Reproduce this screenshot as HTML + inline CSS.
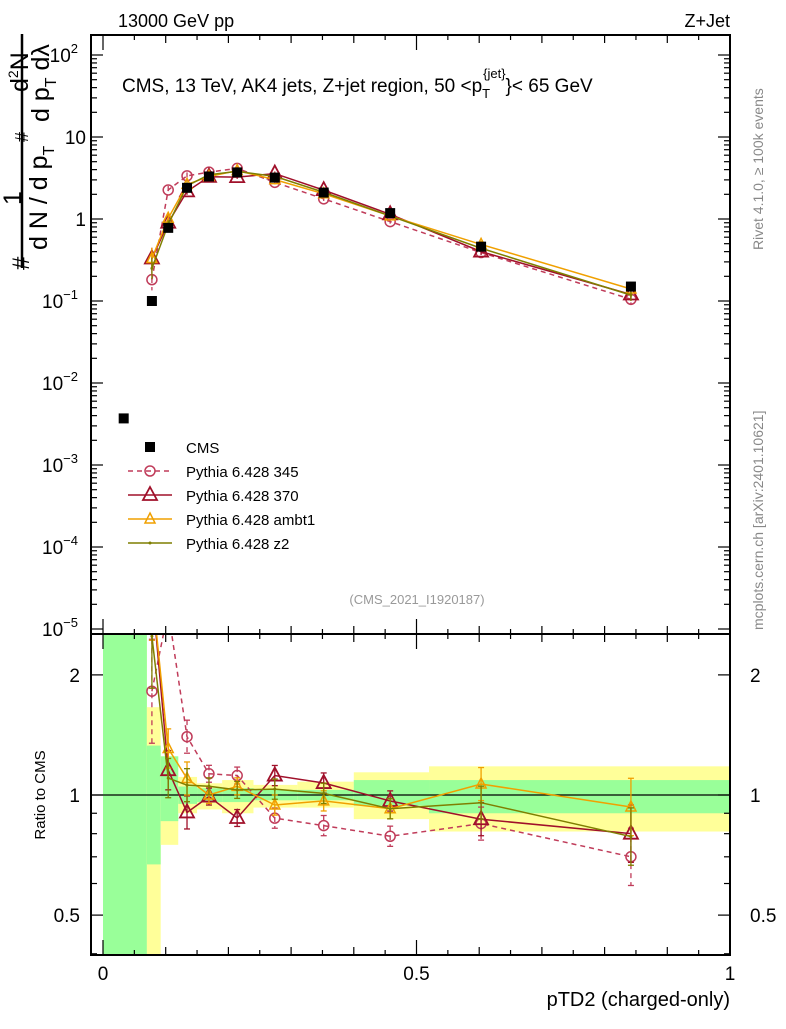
<!DOCTYPE html>
<html><head><meta charset="utf-8"><style>
body{margin:0;background:#fff;}
svg text{font-family:"Liberation Sans",sans-serif;}
</style></head><body>
<svg id="c" width="786" height="1024" xmlns="http://www.w3.org/2000/svg">
<g id="bands"></g>
<g id="marks"></g>
<g id="axes"></g>
<text x="118" y="27" font-size="18">13000 GeV pp</text>
<text x="730" y="27" font-size="18" text-anchor="end">Z+Jet</text>
<text x="122" y="92" font-size="19">CMS, 13 TeV, AK4 jets, Z+jet region, 50 &lt;p<tspan font-size="13" dy="6">T</tspan><tspan font-size="13" dx="-7" dy="-20">{jet}</tspan><tspan dy="14">}&lt; 65 GeV</tspan></text>
<text x="417" y="604" font-size="13" fill="#999" text-anchor="middle">(CMS_2021_I1920187)</text>
<text transform="translate(763,250) rotate(-90)" font-size="14" fill="#888">Rivet 4.1.0, ≥ 100k events</text>
<text transform="translate(763,630) rotate(-90)" font-size="14" fill="#888">mcplots.cern.ch [arXiv:2401.10621]</text>
<g>
<text transform="translate(29,270) rotate(-90)" font-size="24">#</text>
<text transform="translate(21,205) rotate(-90)" font-size="25">1</text>
<line x1="22" y1="268" x2="22" y2="34" stroke="#000" stroke-width="2.5"/>
<text transform="translate(47,250) rotate(-90)" font-size="25">d N / d p<tspan font-size="16" dy="7">T</tspan></text>
<text transform="translate(28,142) rotate(-90)" font-size="18">#</text>
<text transform="translate(28,92) rotate(-90)" font-size="25">d<tspan font-size="14" dy="-10">2</tspan><tspan dy="10">N</tspan></text>
<text transform="translate(49,122) rotate(-90)" font-size="25">d p<tspan font-size="16" dy="7">T</tspan><tspan dy="-7"> dλ</tspan></text>
</g>
<text transform="translate(45,795) rotate(-90)" font-size="15" text-anchor="middle">Ratio to CMS</text>
<text x="730" y="1006" font-size="20" text-anchor="end">pTD2 (charged-only)</text>
<g id="legend"></g>
</svg>
<script>
const xVals=[0.033,0.078,0.104,0.134,0.169,0.214,0.274,0.352,0.458,0.603,0.842];
const cmsVals=[0.0037,0.10,0.78,2.4,3.3,3.7,3.2,2.1,1.18,0.46,0.15];
const mc345=[null,0.182,2.26,3.36,3.73,4.14,2.80,1.76,0.93,0.39,0.105];
const mc370=[null,0.33,0.90,2.17,3.27,3.24,3.58,2.25,1.14,0.40,0.12];
const mcAmbt1=[null,0.33,1.02,2.64,3.3,3.89,3.02,2.03,1.09,0.49,0.14];
const mcZ2=[null,0.25,0.86,2.54,3.47,3.81,3.31,2.12,1.09,0.44,0.118];
const mcRelErr=[0,0.35,0.12,0.1,0.05,0.05,0.06,0.06,0.06,0.1,0.18];
const binEdges=[0,0.07,0.092,0.12,0.15,0.19,0.24,0.31,0.40,0.52,1.0];
const greenLo=[0.39,0.67,0.86,0.95,0.96,0.96,0.97,0.97,0.94,0.90];
const greenHi=[2.6,1.33,1.25,1.05,1.04,1.04,1.03,1.03,1.09,1.09];
const yellowLo=[0.39,0.39,0.75,0.90,0.92,0.90,0.93,0.93,0.87,0.81];
const yellowHi=[2.6,1.66,1.25,1.11,1.07,1.09,1.06,1.08,1.14,1.18];
const yTickVals=[1e-5,1e-4,1e-3,1e-2,0.1,1,10,100];
const yTickLabels=["10","10","10","10","10","1","10","10"];
const yTickExp=["−5","−4","−3","−2","−1","","","2"];
const rTickVals=[0.5,1,2];
const xTickVals=[0,0.5,1];

const NS="http://www.w3.org/2000/svg";
const X=v=>103+627*v;
const Y=v=>219-82*Math.log10(v);
const R=r=>795-399*Math.log10(r);
const YT=35,YB=634,RB=955,XL=91,XR=730;
function el(tag,attrs,parent){const e=document.createElementNS(NS,tag);for(const k in attrs)e.setAttribute(k,attrs[k]);parent.appendChild(e);return e;}
const bands=document.getElementById('bands'),marks=document.getElementById('marks'),axes=document.getElementById('axes'),legend=document.getElementById('legend');
const clip=el('clipPath',{id:'rc'},document.getElementById('c'));el('rect',{x:XL,y:YB,width:XR-XL,height:RB-YB},clip);
const clipM=el('clipPath',{id:'mc'},document.getElementById('c'));el('rect',{x:XL,y:YT,width:XR-XL,height:YB-YT},clipM);
bands.setAttribute('clip-path','url(#rc)');
for(let i=0;i<binEdges.length-1;i++){
  const y=el('rect',{x:X(binEdges[i]),y:R(yellowHi[i]),width:X(binEdges[i+1])-X(binEdges[i]),height:R(yellowLo[i])-R(yellowHi[i]),fill:'#ffff99'},bands);
  
  
  const g=el('rect',{x:X(binEdges[i]),y:R(greenHi[i]),width:X(binEdges[i+1])-X(binEdges[i]),height:R(greenLo[i])-R(greenHi[i]),fill:'#99ff99'},bands);
  
  
}
el('line',{x1:XL,y1:R(1),x2:XR,y2:R(1),stroke:'#000','stroke-width':1.3},bands);

const series=[
 {name:'Pythia 6.428 345',vals:mc345,col:'#c03c5a',dash:'5,4',mk:'circle'},
 {name:'Pythia 6.428 370',vals:mc370,col:'#a0102a',dash:'',mk:'tri'},
 {name:'Pythia 6.428 ambt1',vals:mcAmbt1,col:'#f0a000',dash:'',mk:'tris'},
 {name:'Pythia 6.428 z2',vals:mcZ2,col:'#7f7f00',dash:'',mk:'dot'}];
function marker(s,x,y,g){
  if(s.mk==='circle')el('circle',{cx:x,cy:y,r:5,fill:'none',stroke:s.col,'stroke-width':1.5},g);
  else if(s.mk==='tri')el('path',{d:`M${x} ${y-8}L${x+7} ${y+5}L${x-7} ${y+5}Z`,fill:'none',stroke:s.col,'stroke-width':1.8},g);
  else if(s.mk==='tris')el('path',{d:`M${x} ${y-6}L${x+5} ${y+4}L${x-5} ${y+4}Z`,fill:'none',stroke:s.col,'stroke-width':1.5},g);
  else el('circle',{cx:x,cy:y,r:1.5,fill:s.col},g);
}
const mainG=el('g',{'clip-path':'url(#mc)'},marks);
const ratioG=el('g',{'clip-path':'url(#rc)'},marks);
series.forEach(s=>{
  const g=el('g',{},mainG);
  
  
  const gr=el('g',{},ratioG);
  
  
  let p='',pr='';
  xVals.forEach((xv,i)=>{const v=s.vals[i];if(v==null)return;
    p+=(p?'L':'M')+X(xv)+' '+Y(v);pr+=(pr?'L':'M')+X(xv)+' '+R(v/cmsVals[i]);});
  el('path',{d:p,fill:'none',stroke:s.col,'stroke-width':1.5,'stroke-dasharray':s.dash},g);
  el('path',{d:pr,fill:'none',stroke:s.col,'stroke-width':1.5,'stroke-dasharray':s.dash},gr);
  xVals.forEach((xv,i)=>{const v=s.vals[i];if(v==null)return;
    const e=mcRelErr[i],r=v/cmsVals[i],x=X(xv);
    el('line',{x1:x,y1:Y(v*(1+e)),x2:x,y2:Y(v/(1+e)),stroke:s.col,'stroke-width':1.3,'stroke-dasharray':s.dash},g);
    el('line',{x1:x,y1:R(r*(1+e)),x2:x,y2:R(r/(1+e)),stroke:s.col,'stroke-width':1.3,'stroke-dasharray':s.dash},gr);
    [R(r*(1+e)),R(r/(1+e))].forEach(yy=>el('line',{x1:x-3,y1:yy,x2:x+3,y2:yy,stroke:s.col,'stroke-width':1.3},gr));
    const m=el('g',{},g);
    marker(s,x,Y(v),m);
    marker(s,x,R(r),gr);
  });
});
const cg=el('g',{},mainG);


xVals.forEach((xv,i)=>{el('rect',{x:X(xv)-5,y:Y(cmsVals[i])-5,width:10,height:10,fill:'#000'},cg);});

el('rect',{x:XL,y:YT,width:XR-XL,height:YB-YT,fill:'none',stroke:'#000','stroke-width':2},axes);
el('rect',{x:XL,y:YB,width:XR-XL,height:RB-YB,fill:'none',stroke:'#000','stroke-width':2},axes);
for(let d=-5;d<=2;d++){for(let k=1;k<10;k++){const v=k*Math.pow(10,d);const y=Y(v);if(y<YT||y>YB)continue;
  const L=k===1?12:6;el('line',{x1:XL,y1:y,x2:XL+L,y2:y,stroke:'#000','stroke-width':1.2},axes);
  el('line',{x1:XR,y1:y,x2:XR-L,y2:y,stroke:'#000','stroke-width':1.2},axes);}}
yTickVals.forEach((v,i)=>{const t=el('text',{x:yTickExp[i]?78:86,y:Y(v)+7,'font-size':19,'text-anchor':'end'},axes);
  
  
  t.textContent=yTickLabels[i];
  if(yTickExp[i]){const s=el('tspan',{'font-size':13,dy:-9},t);s.textContent=yTickExp[i];}});
for(let k=0;k<=20;k++){const v=k*0.05,x=X(v);const L=k%10===0?15:(k%2===0?8:5);
  [YT,YB].forEach(y0=>el('line',{x1:x,y1:y0,x2:x,y2:y0+L,stroke:'#000','stroke-width':1.2},axes));
  el('line',{x1:x,y1:RB,x2:x,y2:RB-L,stroke:'#000','stroke-width':1.2},axes);
  el('line',{x1:x,y1:YB,x2:x,y2:YB-L,stroke:'#000','stroke-width':1.2},axes);}
xTickVals.forEach(v=>{const t=el('text',{x:X(v),y:980,'font-size':19,'text-anchor':'middle'},axes);
  
  
  t.textContent=String(v);});
[0.4,0.5,0.6,0.7,0.8,0.9,1,2].forEach(v=>{const y=R(v);const L=(v===0.5||v===1||v===2)?12:6;
  el('line',{x1:XL,y1:y,x2:XL+L,y2:y,stroke:'#000','stroke-width':1.2},axes);
  el('line',{x1:XR,y1:y,x2:XR-L,y2:y,stroke:'#000','stroke-width':1.2},axes);});
rTickVals.forEach(v=>{const t=el('text',{x:80,y:R(v)+7,'font-size':19,'text-anchor':'end'},axes);
  
  
  t.textContent=String(v);
  const t2=el('text',{x:750,y:R(v)+7,'font-size':19},axes);
  
  
  t2.textContent=String(v);});
const lx=150;let ly=447;
const le=el('g',{},legend);


el('rect',{x:lx-5,y:ly-5,width:10,height:10,fill:'#000'},le);
const lt=el('text',{x:lx+36,y:ly+6,'font-size':15},le);lt.textContent='CMS';
series.forEach((s,i)=>{const y=ly+24*(i+1);const g=el('g',{},legend);
  
  
  el('line',{x1:lx-22,y1:y,x2:lx+22,y2:y,stroke:s.col,'stroke-width':1.5,'stroke-dasharray':s.dash},g);
  marker(s,lx,y,g);
  const t=el('text',{x:lx+36,y:y+6,'font-size':15},g);t.textContent=s.name;});
</script>
</body></html>
